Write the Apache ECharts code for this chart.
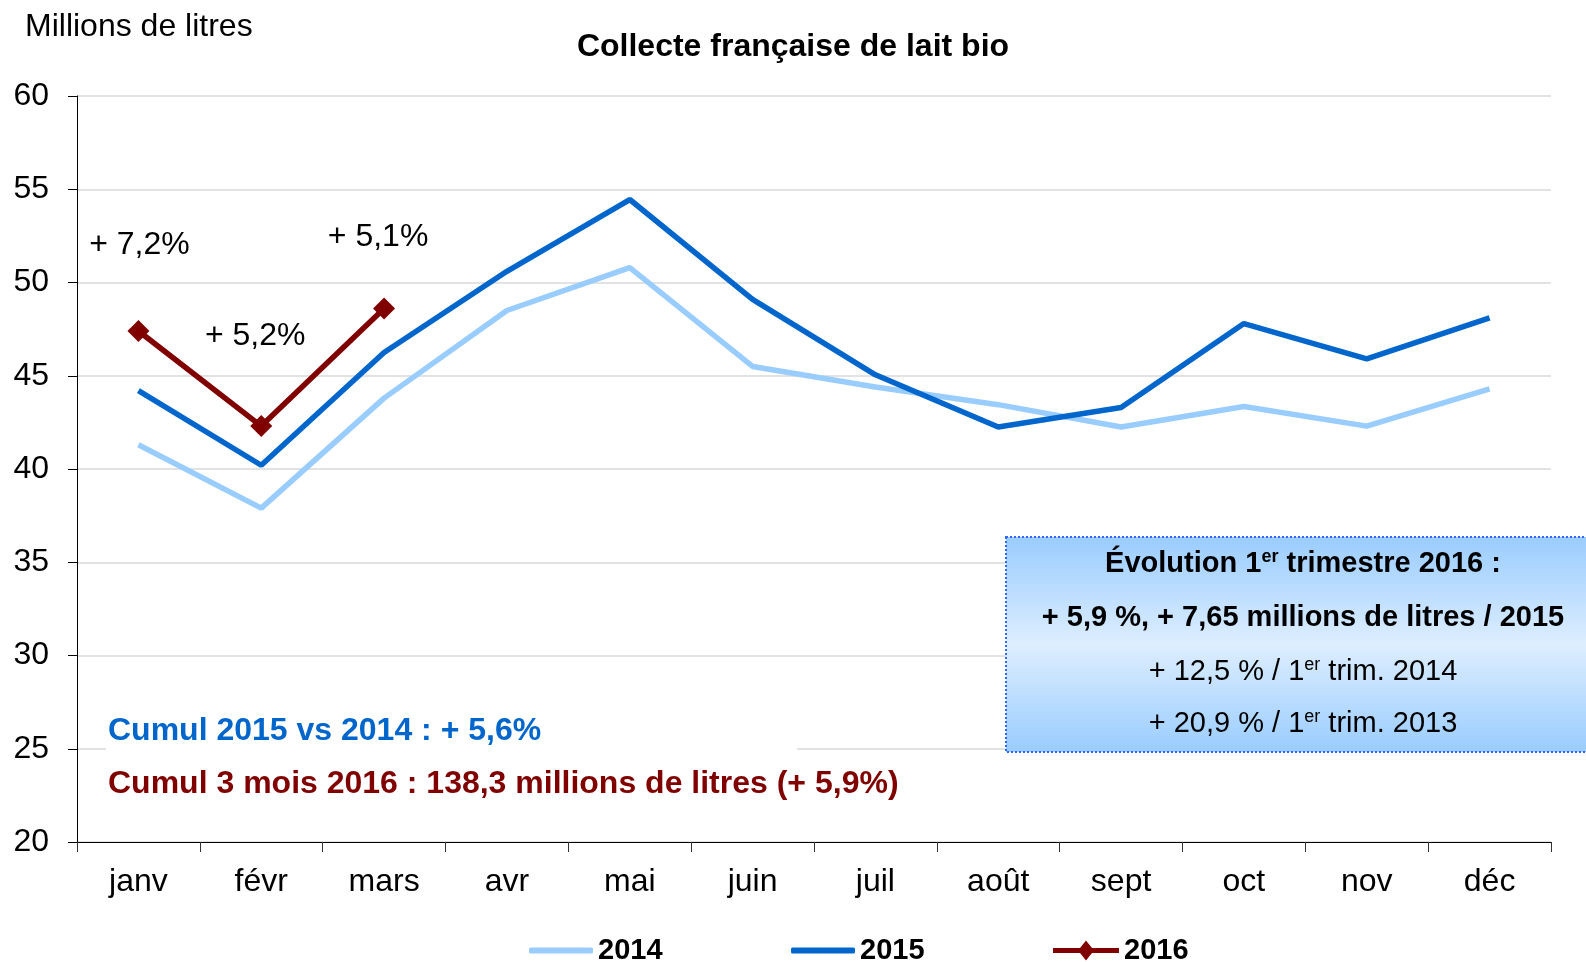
<!DOCTYPE html>
<html>
<head>
<meta charset="utf-8">
<script src="https://cdn.jsdelivr.net/npm/echarts@6/dist/echarts.min.js"></script>
<style>
html,body{margin:0;padding:0;background:#fff;}
#chart{width:1586px;height:962px;}
</style>
</head>
<body>
<div id="chart"></div>
<script>
// ---- data ----
var months = ['janv', 'févr', 'mars', 'avr', 'mai', 'juin', 'juil', 'août', 'sept', 'oct', 'nov', 'déc'];
var v2014 = [41.3, 37.9, 43.8, 48.5, 50.8, 45.5, 44.4, 43.45, 42.25, 43.35, 42.3, 44.3];
var v2015 = [44.2, 40.2, 46.25, 50.6, 54.45, 49.1, 45.05, 42.25, 43.3, 47.8, 45.9, 48.1];
var v2016 = [47.4, 42.3, 48.6];
var labels2016 = ['+ 7,2%', '+ 5,2%', '+ 5,1%'];
var seriesNames = ['2014', '2015', '2016'];
var yTicks = [20, 25, 30, 35, 40, 45, 50, 55, 60];

var FONT = 'Liberation Sans, Arial, sans-serif';
var labelOffsets = [[1, -86], [-6, -90], [-6, -71]];

var chart = echarts.init(document.getElementById('chart'));

var d2016 = v2016.map(function (v, i) {
  return {
    value: v,
    label: { show: true, formatter: labels2016[i], offset: labelOffsets[i] }
  };
});

var legendText = { fontFamily: FONT, fontSize: 29, fontWeight: 'bold', color: '#000' };

var option = {
  backgroundColor: '#ffffff',
  animation: false,
  textStyle: { fontFamily: FONT },
  title: [
    { text: 'Collecte française de lait bio', left: 'center', top: 31, padding: 0,
      textStyle: { fontFamily: FONT, fontSize: 32, fontWeight: 'bold', color: '#000' } },
    { text: 'Millions de litres', left: 25, top: 11, padding: 0,
      textStyle: { fontFamily: FONT, fontSize: 32, fontWeight: 'normal', color: '#000' } }
  ],
  grid: { left: 77, right: 35, top: 96, bottom: 120, containLabel: false },
  xAxis: {
    type: 'category',
    data: months,
    boundaryGap: true,
    axisLine: { lineStyle: { color: '#000', width: 1 } },
    axisTick: { show: true, length: 10, lineStyle: { color: '#333' } },
    axisLabel: { color: '#000', fontSize: 32, fontFamily: FONT, margin: 24 },
    splitLine: { show: false }
  },
  yAxis: {
    type: 'value',
    min: yTicks[0],
    max: yTicks[yTicks.length - 1],
    interval: yTicks[1] - yTicks[0],
    axisLine: { show: true, lineStyle: { color: '#000', width: 1 } },
    axisTick: { show: true, length: 9, lineStyle: { color: '#000' } },
    axisLabel: { color: '#000', fontSize: 32, fontFamily: FONT, margin: 28 },
    splitLine: { show: true, lineStyle: { color: '#d9d9d9', width: 1.5 } }
  },
  legend: [
    { data: [{ name: '2014', icon: 'roundRect' }], left: 529, top: 936, padding: 0,
      itemWidth: 64, itemHeight: 6, itemGap: 0, textStyle: legendText },
    { data: [{ name: '2015', icon: 'roundRect' }], left: 791, top: 936, padding: 0,
      itemWidth: 64, itemHeight: 6, itemGap: 0, textStyle: legendText },
    { data: [{ name: '2016', icon: 'path://M0,7.5H66V12.5H0Z M25,10L33,0L41,10L33,20Z' }],
      left: 1053, top: 936, padding: 0,
      itemWidth: 66, itemHeight: 20, itemGap: 0, textStyle: legendText }
  ],
  series: [
    { name: seriesNames[0], type: 'line', data: v2014, symbol: 'none', z: 3,
      lineStyle: { color: '#99CCFF', width: 5.5 }, itemStyle: { color: '#99CCFF' } },
    { name: seriesNames[1], type: 'line', data: v2015, symbol: 'none', z: 4,
      lineStyle: { color: '#0066CC', width: 5.5 }, itemStyle: { color: '#0066CC' } },
    { name: seriesNames[2], type: 'line', data: d2016, symbol: 'diamond', symbolSize: 22, z: 5,
      lineStyle: { color: '#800000', width: 5.5 }, itemStyle: { color: '#800000' },
      label: { show: true, position: 'inside', color: '#000', fontSize: 32, fontFamily: FONT,
               align: 'center', verticalAlign: 'middle' } }
  ],
  graphic: [
    // white box behind cumul notes
    { type: 'rect', z: 50, shape: { x: 106, y: 712, width: 691, height: 50 },
      style: { fill: '#ffffff' } },
    { type: 'text', z: 51, x: 108, y: 731,
      style: { text: 'Cumul 2015 vs 2014 : + 5,6%', fill: '#0066CC', fontFamily: FONT, fontSize: 32,
               fontWeight: 'bold', align: 'left', verticalAlign: 'middle' } },
    { type: 'text', z: 51, x: 108, y: 784,
      style: { text: 'Cumul 3 mois 2016 : 138,3 millions de litres (+ 5,9%)', fill: '#800000', fontFamily: FONT,
               fontSize: 32, fontWeight: 'bold', align: 'left', verticalAlign: 'middle' } },
    // info box
    { type: 'rect', z: 50, shape: { x: 1006, y: 537, width: 600, height: 215 },
      style: {
        fill: new echarts.graphic.LinearGradient(0, 0, 0, 1, [
          { offset: 0, color: '#99CCFF' },
          { offset: 0.5, color: '#DDEEFF' },
          { offset: 1, color: '#99CCFF' }
        ]),
        stroke: '#3366FF', lineWidth: 2, lineDash: [2, 2]
      } },
    { type: 'text', z: 51, x: 1303, y: 564,
      style: { text: '{b|Évolution 1}{bs|er}{b| trimestre 2016 :}', align: 'center', verticalAlign: 'middle',
        rich: {
          b: { fontFamily: FONT, fontSize: 29, fontWeight: 'bold', fill: '#000', color: '#000', lineHeight: 32 },
          bs: { fontFamily: FONT, fontSize: 18, fontWeight: 'bold', fill: '#000', color: '#000', lineHeight: 20, verticalAlign: 'top' }
        } } },
    { type: 'text', z: 51, x: 1303, y: 618,
      style: { text: '+ 5,9 %, + 7,65 millions de litres / 2015', align: 'center', verticalAlign: 'middle',
               fontFamily: FONT, fontSize: 29, fontWeight: 'bold', fill: '#000' } },
    { type: 'text', z: 51, x: 1303, y: 672,
      style: { text: '{n|+ 12,5 % / 1}{s|er}{n| trim. 2014}', align: 'center', verticalAlign: 'middle',
        rich: {
          n: { fontFamily: FONT, fontSize: 29, fill: '#000', color: '#000', lineHeight: 32 },
          s: { fontFamily: FONT, fontSize: 18, fill: '#000', color: '#000', lineHeight: 20, verticalAlign: 'top' }
        } } },
    { type: 'text', z: 51, x: 1303, y: 724,
      style: { text: '{n|+ 20,9 % / 1}{s|er}{n| trim. 2013}', align: 'center', verticalAlign: 'middle',
        rich: {
          n: { fontFamily: FONT, fontSize: 29, fill: '#000', color: '#000', lineHeight: 32 },
          s: { fontFamily: FONT, fontSize: 18, fill: '#000', color: '#000', lineHeight: 20, verticalAlign: 'top' }
        } } }
  ]
};
chart.setOption(option);
</script>
</body>
</html>
